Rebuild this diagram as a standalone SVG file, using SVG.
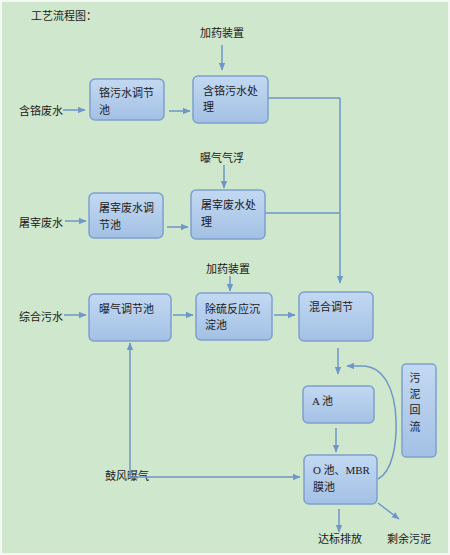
<svg xmlns="http://www.w3.org/2000/svg" width="450" height="555" viewBox="0 0 450 555">
<defs>
<linearGradient id="bg" x1="0" y1="0" x2="0" y2="1">
<stop offset="0" stop-color="#C3D9F2"/>
<stop offset="1" stop-color="#A3C0E4"/>
</linearGradient>
<marker id="ah" markerWidth="8" markerHeight="8" refX="7" refY="4" orient="auto" markerUnits="userSpaceOnUse">
<path d="M0,0.8 L7.5,4 L0,7.2 Z" fill="#6F96C8"/>
</marker>
<style>
.box{fill:url(#bg);stroke:#7DA0CE;stroke-width:1.5}
.t{font-family:"Noto Sans CJK SC","Liberation Sans",sans-serif;font-size:11px;fill:#1a1a1a}
.s{font-family:"Liberation Serif","Noto Sans CJK SC",serif;font-size:11px;fill:#1a1a1a}
.c{fill:none;stroke:#6F96C8;stroke-width:1.5}
.a{fill:none;stroke:#6F96C8;stroke-width:1.5;marker-end:url(#ah)}
</style>
</defs>
<rect x="0" y="0" width="450" height="555" fill="#F4F8F3"/>
<rect x="2" y="2" width="446" height="551" fill="#CFE7CC"/>
<text class="t" x="31" y="20">工艺流程图：</text>
<text class="t" x="222" y="37" text-anchor="middle">加药装置</text>
<text class="t" x="41" y="115" text-anchor="middle">含铬废水</text>
<text class="t" x="222" y="162" text-anchor="middle">曝气气浮</text>
<text class="t" x="41" y="227" text-anchor="middle">屠宰废水</text>
<text class="t" x="228" y="273" text-anchor="middle">加药装置</text>
<text class="t" x="41" y="321" text-anchor="middle">综合污水</text>
<text class="t" x="127" y="480" text-anchor="middle">鼓风曝气</text>
<text class="t" x="340" y="543" text-anchor="middle">达标排放</text>
<text class="t" x="409" y="543" text-anchor="middle">剩余污泥</text>

<g id="connectors">
<path class="a" d="M222,45 V70"/>
<path class="a" d="M63,110 H85"/>
<path class="a" d="M169,111 H190"/>
<path class="c" d="M268,98 H340"/>
<path class="a" d="M224,165 V188"/>
<path class="a" d="M65,221 H86"/>
<path class="a" d="M167,227 H188"/>
<path class="c" d="M265,213 H340"/>
<path class="a" d="M340,98 V283"/>
<path class="a" d="M230,276 V291"/>
<path class="a" d="M64,315 H86"/>
<path class="a" d="M173,315 H193"/>
<path class="a" d="M274,315 H295"/>
<path class="a" d="M338,348 V374"/>
<path class="a" d="M336,428 V452"/>
<path class="a" d="M130,477 V343"/>
<path class="a" d="M130,477 H300"/>
<path class="a" d="M378,479 C392,472 397,445 396,420 C395,390 384,366 362,366 L347,366"/>
<path class="a" d="M339,509 V532"/>
<path class="a" d="M378,503 L399,519"/>
</g>

<g id="n1"><rect class="box" x="90" y="79" width="74" height="41" rx="5"/><text class="t" x="99" y="97">铬污水调节</text><text class="t" x="99" y="114">池</text></g>
<g id="n2"><rect class="box" x="193" y="76" width="75" height="47" rx="5"/><text class="t" x="203" y="95">含铬污水处</text><text class="t" x="203" y="111">理</text></g>
<g id="n3"><rect class="box" x="89" y="193" width="74" height="45" rx="5"/><text class="t" x="99" y="212">屠宰废水调</text><text class="t" x="99" y="229">节池</text></g>
<g id="n4"><rect class="box" x="191" y="190" width="74" height="49" rx="5"/><text class="t" x="201" y="209">屠宰废水处</text><text class="t" x="201" y="226">理</text></g>
<g id="n5"><rect class="box" x="89" y="294" width="82" height="47" rx="5"/><text class="t" x="99" y="313">曝气调节池</text></g>
<g id="n6"><rect class="box" x="196" y="293" width="76" height="47" rx="5"/><text class="t" x="205" y="313">除硫反应沉</text><text class="t" x="205" y="329">淀池</text></g>
<g id="n7"><rect class="box" x="299" y="292" width="74" height="49" rx="5"/><text class="t" x="309" y="311">混合调节</text></g>
<g id="n8"><rect class="box" x="402" y="364" width="34" height="93" rx="4"/><text class="t" x="415" y="382" text-anchor="middle">污</text><text class="t" x="415" y="398" text-anchor="middle">泥</text><text class="t" x="415" y="414" text-anchor="middle">回</text><text class="t" x="415" y="431" text-anchor="middle">流</text></g>
<g id="n9"><rect class="box" x="303" y="386" width="71" height="37" rx="5"/><text class="s" x="312" y="405">A <tspan class="t">池</tspan></text></g>
<g id="n10"><rect class="box" x="304" y="455" width="73" height="49" rx="5"/><text class="t" x="313" y="474"><tspan class="s">O</tspan> 池、<tspan class="s">MBR</tspan></text><text class="t" x="313" y="491">膜池</text></g>
</svg>
